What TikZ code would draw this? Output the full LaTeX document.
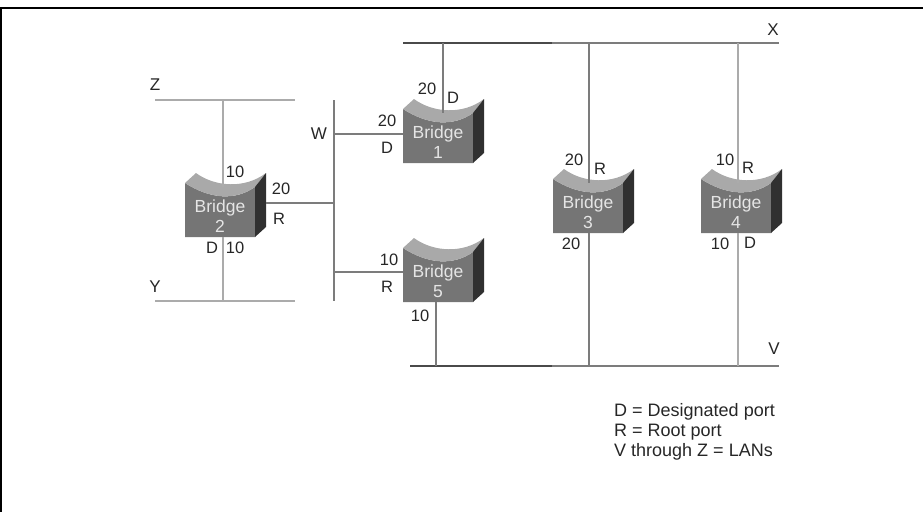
\documentclass[tikz,border=0pt]{standalone}
\usepackage{fontspec}
\setmainfont{Liberation Sans}
\usepackage{xcolor}
\usetikzlibrary{positioning}
\definecolor{bridgeFace}{HTML}{757575}
\definecolor{bridgeBand}{HTML}{A9A9A9}
\definecolor{bridgeSide}{HTML}{303030}
\definecolor{lanDark}{HTML}{4A4A4A}
\definecolor{lanMid}{HTML}{7C7C7C}
\definecolor{lanLight}{HTML}{ABABAB}
\newcommand{\bridge}[4]{%
% #1 = name, #2 = left edge, #3 = bottom edge, #4 = number
\begin{scope}[shift={(#2,#3)}]
\fill[bridgeFace] (0,-54) .. controls (25,-38) and (50,-36) .. (70,-50) -- (70,0) -- (0,0) -- cycle;
\fill[bridgeBand] (0,-54) -- (11,-64) .. controls (30,-50) and (60,-48) .. (81,-64)
-- (70,-50) .. controls (50,-36) and (25,-38) .. (0,-54) -- cycle;
\fill[bridgeSide] (70,-50) -- (81,-64) -- (81,-10) -- (70,0) -- cycle;
\node[bridgebox] (#1) at (35,-20.5) {Bridge\\#4};
\coordinate (#1top) at (35,-50);
\coordinate (#1side) at (81,-30);
\end{scope}
}

\begin{document}
\begin{tikzpicture}[
    x=1pt, y=-1pt,
    bridgebox/.style={minimum width=70pt, minimum height=41pt, inner sep=0pt, align=center, text=white!90!black, font=\fontsize{17.5}{20}\selectfont},
    port/.style={inner sep=0pt, text=black!85, font=\fontsize{16.5}{18}\selectfont},
    lanname/.style={inner sep=0pt, text=black!85, font=\fontsize{17}{18}\selectfont},
    legend/.style={inner sep=0pt, align=left, anchor=north west, text=black!85, font=\fontsize{18}{20}\selectfont},
    trunk/.style={line width=1.8pt, lanDark},
    lan/.style={line width=2pt, lanMid},
    lanpale/.style={line width=2.6pt, lanLight},
    drop/.style={line width=2pt, lanMid},
    droppale/.style={line width=2.6pt, lanLight}
]
\useasboundingbox (0,0) rectangle (923,512);
\draw[line width=2.6pt] (0.3,512) -- (0.3,8) -- (923,8);

% bridges
\bridge{br1}{403}{163}{1}
\bridge{br2}{185}{237}{2}
\bridge{br3}{553}{233}{3}
\bridge{br4}{701}{233}{4}
\bridge{br5}{403}{302}{5}

% LAN ends
\coordinate (xa) at (403,43);
\coordinate (xb) at (552,43);
\coordinate (xc) at (779,43);
\coordinate (va) at (410,366);
\coordinate (vb) at (552,366);
\coordinate (vc) at (779,366);
\coordinate (za) at (155,100);
\coordinate (zb) at (295,100);
\coordinate (ya) at (155,301);
\coordinate (yb) at (295,301);
\coordinate (wa) at (334,100);
\coordinate (wb) at (334,301);
\coordinate (w1) at (334,134);
\coordinate (w2) at (334,203);
\coordinate (w5) at (334,272);
\coordinate (x1) at (443,43);
\coordinate (x3) at (589,43);
\coordinate (x4) at (738,43);
\coordinate (z2) at (223,100);
\coordinate (y2) at (223,301);
\coordinate (v5) at (436,366);
\coordinate (v3) at (589,366);
\coordinate (v4) at (738,366);

% LANs
\draw[trunk] (xa) -- (xb);
\draw[lan] (xb) -- (xc);
\draw[trunk] (va) -- (vb);
\draw[lan] (vb) -- (vc);
\draw[lanpale] (za) -- (zb);
\draw[lanpale] (ya) -- (yb);
\draw[drop] (wa) -- (wb);

% links
\draw[drop] (x1) -- (x1 |- br1top);
\draw[drop] (w1) -- (w1 -| br1.west);
\draw[drop] (w2) -- (w2 -| br2side);
\draw[drop] (w5) -- (w5 -| br5.west);
\draw[droppale] (z2) -- (z2 |- br2top);
\draw[droppale] (y2) -- (y2 |- br2.south);
\draw[drop] (v5) -- (v5 |- br5.south);
\draw[drop] (x3) -- (x3 |- br3top);
\draw[drop] (v3) -- (v3 |- br3.south);
\draw[droppale] (x4) -- (x4 |- br4top);
\draw[droppale] (v4) -- (v4 |- br4.south);

% LAN names
\node[lanname] (nameX) at (773,30) {X};
\node[lanname] (nameV) at (774,349) {V};
\node[lanname] (nameZ) at (155,85) {Z};
\node[lanname] (nameY) at (155,287) {Y};
\node[lanname] (nameW) at (319,134) {W};

% port labels
\node[port] (p1a) at (427,89) {20};
\node[port] (p1b) at (453,98) {D};
\node[port] (p1c) at (387,121) {20};
\node[port] (p1d) at (387,148) {D};
\node[port] (p2a) at (235,172) {10};
\node[port] (p2b) at (281,189) {20};
\node[port] (p2c) at (279,219) {R};
\node[port] (p2d) at (212,248) {D};
\node[port] (p2e) at (235,248) {10};
\node[port] (p3a) at (574,160) {20};
\node[port] (p3b) at (600,169) {R};
\node[port] (p3c) at (571,244) {20};
\node[port] (p4a) at (725,160) {10};
\node[port] (p4b) at (748,168) {R};
\node[port] (p4c) at (720,244) {10};
\node[port] (p4d) at (750,243) {D};
\node[port] (p5a) at (389,260) {10};
\node[port] (p5b) at (387,287) {R};
\node[port] (p5c) at (420,316) {10};

\node[legend] (key) at (614,403) {D = Designated port\\R = Root port\\V through Z = LANs};
\end{tikzpicture}
\end{document}
